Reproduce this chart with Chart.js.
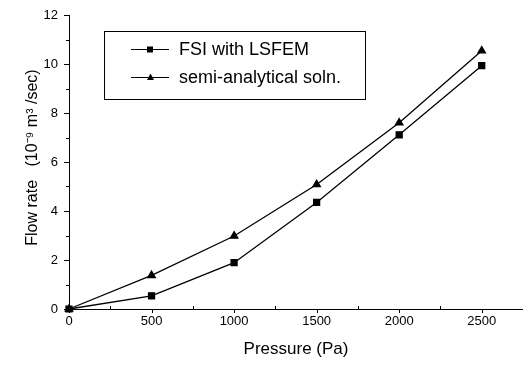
<!DOCTYPE html>
<html lang="en">
<head>
    <meta charset="UTF-8">
    <title>Flow rate vs Pressure</title>
    <script src="https://cdn.jsdelivr.net/npm/chart.js@4.4.1/dist/chart.umd.min.js"></script>
    <style>
        body {
            margin: 0;
            padding: 0;
            background: #fff;
        }
        .chart-box {
            width: 523px;
            height: 365px;
        }
    </style>
</head>
<body>
    <div class="chart-box">
        <canvas id="flowChart"></canvas>
    </div>

    <script>
        const pressure = [0, 500, 1000, 1500, 2000, 2500];
        const fsiLsfem = [0, 0.54, 1.89, 4.35, 7.11, 9.93];
        const semiAnalytical = [0, 1.37, 2.98, 5.08, 7.6, 10.54];
        const seriesNames = ['FSI with LSFEM', 'semi-analytical soln.'];
        const FONT = "'Liberation Sans', Arial, sans-serif";

        function toPoints(ys) {
            return pressure.map((x, i) => ({ x: x, y: ys[i] }));
        }

        // origin-style ticks: majors longer, minors shorter
        const tickPlugin = {
            id: 'originTicks',
            afterDraw(chart) {
                const ctx = chart.ctx;
                const xs = chart.scales.x, ys = chart.scales.y;
                const area = chart.chartArea;
                ctx.save();
                ctx.strokeStyle = '#000';
                ctx.lineWidth = 1;
                ctx.beginPath();
                xs.ticks.forEach(t => {
                    const px = Math.round(xs.getPixelForValue(t.value)) + 0.5;
                    if (t.value % 500 === 0) {
                        ctx.moveTo(px, area.bottom);
                        ctx.lineTo(px, area.bottom + 4);
                    } else {
                        ctx.moveTo(px, area.bottom - 3);
                        ctx.lineTo(px, area.bottom + 1);
                    }
                });
                ys.ticks.forEach(t => {
                    const py = Math.round(ys.getPixelForValue(t.value)) + 0.5;
                    const len = t.value % 2 === 0 ? 5 : 3;
                    ctx.moveTo(area.left, py);
                    ctx.lineTo(area.left - len, py);
                });
                ctx.stroke();
                ctx.restore();
            }
        };

        // boxed legend inside the plot
        const legendPlugin = {
            id: 'boxLegend',
            afterDraw(chart) {
                const ctx = chart.ctx;
                ctx.save();
                ctx.strokeStyle = '#000';
                ctx.lineWidth = 1;
                ctx.strokeRect(104.5, 31.5, 261, 68);
                ctx.font = '18px ' + FONT;
                ctx.fillStyle = '#000';
                ctx.textBaseline = 'middle';
                const rows = [49, 77];
                chart.data.datasets.forEach((ds, i) => {
                    const y = rows[i] + 0.5;
                    ctx.beginPath();
                    ctx.lineWidth = 1.2;
                    ctx.moveTo(131, y);
                    ctx.lineTo(169, y);
                    ctx.stroke();
                    ctx.beginPath();
                    if (ds.pointStyle === 'rect') {
                        ctx.fillRect(147, y - 3, 6, 6);
                    } else {
                        ctx.moveTo(150.5, y - 4);
                        ctx.lineTo(154, y + 2.5);
                        ctx.lineTo(147, y + 2.5);
                        ctx.closePath();
                        ctx.fill();
                    }
                    ctx.fillText(ds.label, 179, rows[i] + 1);
                });
                ctx.restore();
            }
        };

        new Chart(document.getElementById('flowChart'), {
            type: 'line',
            data: {
                datasets: [{
                    label: seriesNames[0],
                    data: toPoints(fsiLsfem),
                    borderColor: '#000',
                    backgroundColor: '#000',
                    borderWidth: 1.3,
                    pointStyle: 'rect',
                    pointRadius: 4.2,
                    clip: false
                }, {
                    label: seriesNames[1],
                    data: toPoints(semiAnalytical),
                    borderColor: '#000',
                    backgroundColor: '#000',
                    borderWidth: 1.3,
                    pointStyle: 'triangle',
                    pointRadius: 4.3,
                    clip: false
                }]
            },
            options: {
                responsive: true,
                maintainAspectRatio: false,
                animation: false,
                layout: {
                    autoPadding: false,
                    padding: { top: 15, right: 0, left: 0, bottom: 0 }
                },
                plugins: {
                    legend: { display: false },
                    tooltip: { enabled: false }
                },
                scales: {
                    x: {
                        type: 'linear',
                        min: 0,
                        max: 2750,
                        afterFit(scale) {
                            scale.height = 56;
                            scale.paddingLeft = 0;
                            scale.paddingRight = 0;
                        },
                        ticks: {
                            stepSize: 250,
                            autoSkip: false,
                            maxRotation: 0,
                            padding: 5,
                            color: '#000',
                            font: { family: FONT, size: 13 },
                            callback: v => (v % 500 === 0 ? v : '')
                        },
                        grid: { display: false, drawTicks: false },
                        border: { display: true, color: '#000', width: 1 },
                        title: {
                            display: true,
                            text: 'Pressure (Pa)',
                            color: '#000',
                            font: { family: FONT, size: 17 },
                            padding: { top: 0, bottom: 5 }
                        }
                    },
                    y: {
                        min: 0,
                        max: 12,
                        afterFit(scale) {
                            scale.width = 69;
                            scale.paddingTop = 0;
                            scale.paddingBottom = 0;
                        },
                        ticks: {
                            stepSize: 1,
                            autoSkip: false,
                            padding: 11,
                            color: '#000',
                            font: { family: FONT, size: 13 },
                            callback: v => (v % 2 === 0 ? v : '')
                        },
                        grid: { display: false, drawTicks: false },
                        border: { display: true, color: '#000', width: 1 },
                        title: {
                            display: true,
                            text: '  Flow rate   (10\u207B\u2079 m\u00B3 /sec)',
                            color: '#000',
                            font: { family: FONT, size: 16 },
                            padding: { top: 23, bottom: 0 }
                        }
                    }
                }
            },
            plugins: [tickPlugin, legendPlugin]
        });
    </script>
</body>
</html>
